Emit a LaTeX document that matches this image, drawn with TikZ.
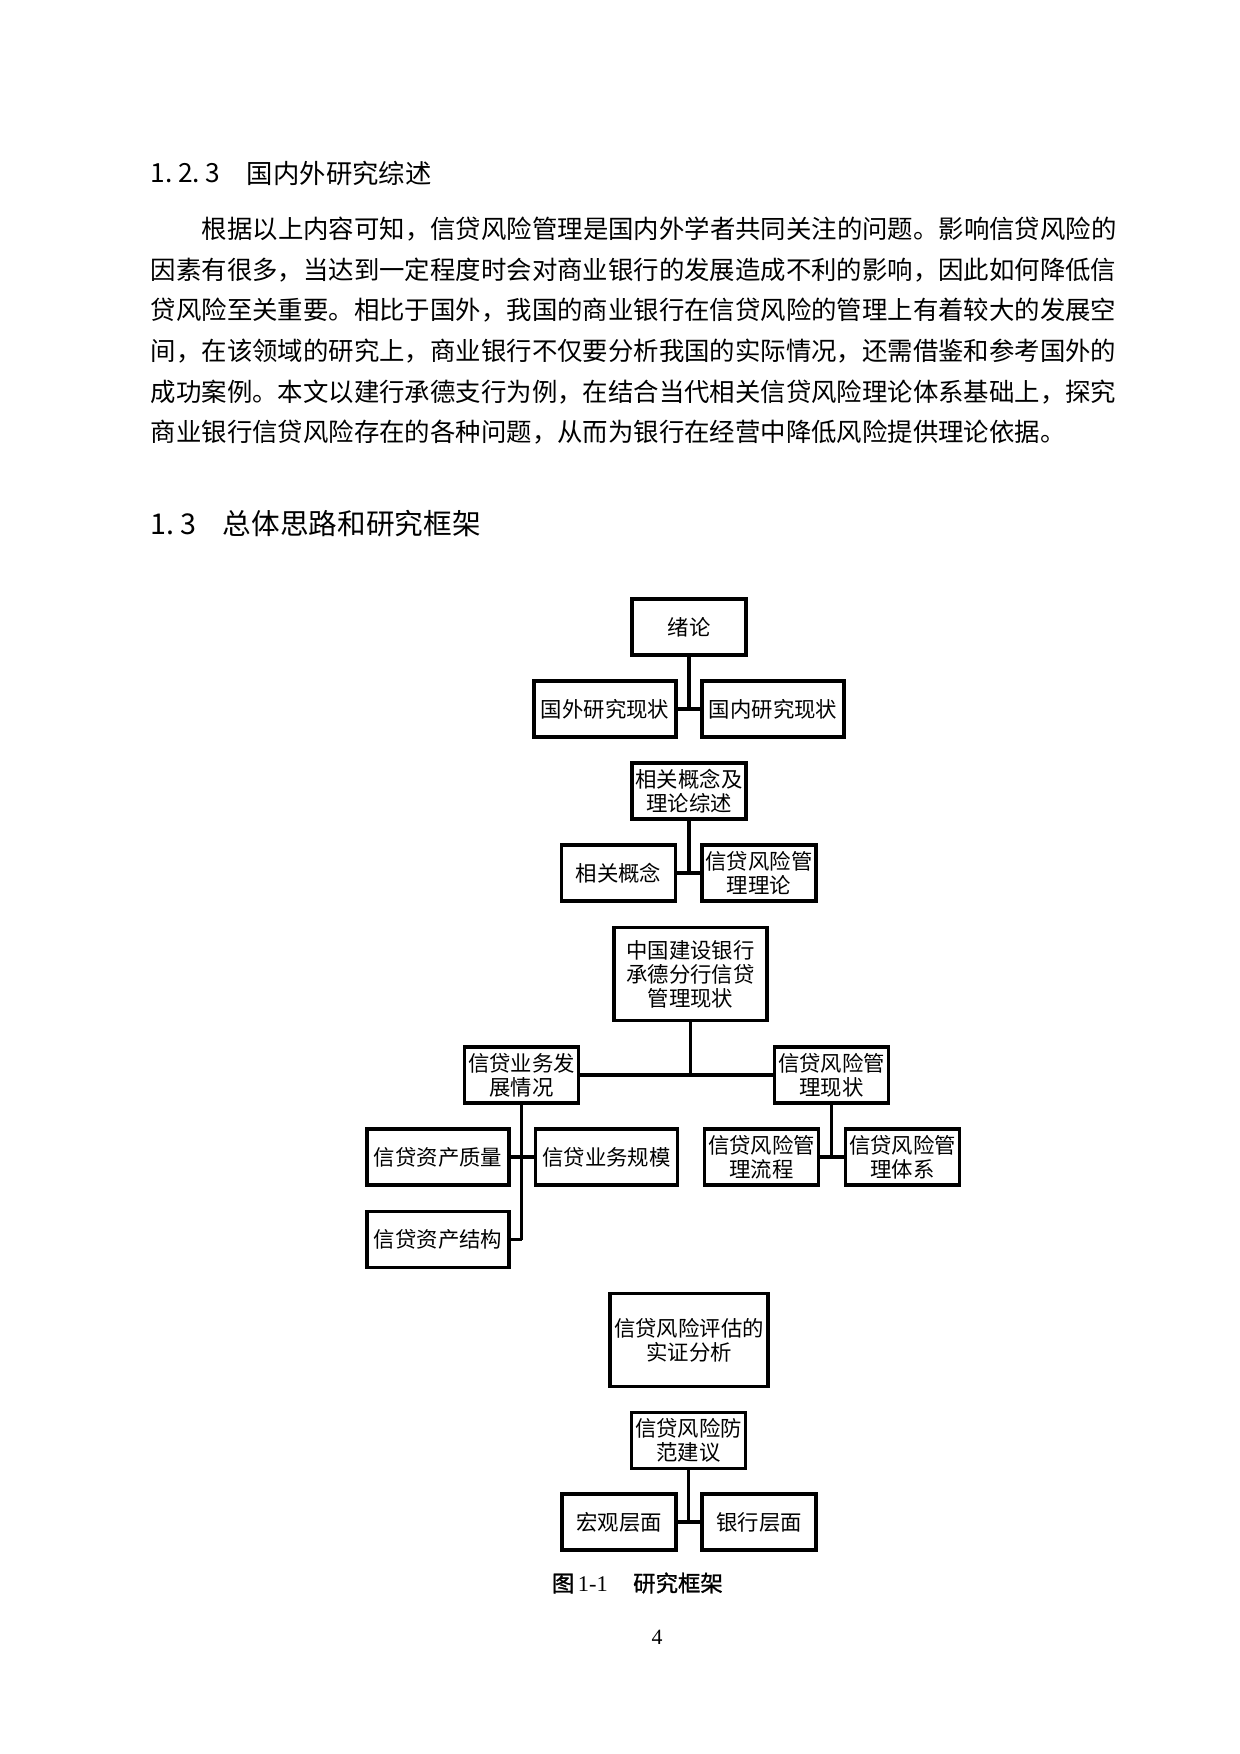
\documentclass[tikz,border=0pt]{standalone}
\usepackage{fontspec}
\setmainfont{Liberation Serif}
\newfontfamily\cjk{Noto Sans CJK SC}
\newfontfamily\cjkcap[FakeBold=1.2]{Noto Sans CJK SC}
\usetikzlibrary{positioning}
\newcommand{\pxu}{0.16935mm}

\begin{document}
\begin{tikzpicture}[x=\pxu, y=-\pxu, line width=1.9pt,
		box/.style={draw, rectangle, inner sep=0pt, align=center,
			minimum width=114*\pxu, minimum height=56*\pxu,
			font=\cjk\fontsize{10.3pt}{11.6pt}\selectfont},
		wbox/.style={box, minimum width=142*\pxu},
		tbox/.style={box, minimum height=93*\pxu},
		body/.style={anchor=west, inner sep=0pt, font=\cjk\fontsize{12.24pt}{12.24pt}\selectfont},
		head/.style={anchor=west, inner sep=0pt, font=\cjk\fontsize{12.7pt}{12.7pt}\selectfont}]

		\useasboundingbox (0,0) rectangle (1240,1754);

		\node[head] (SecNo) at (149,173) {1.\hspace{0.9mm}2.\hspace{0.9mm}3};
		\node[head] (Sec) at (245,173) {国内外研究综述};
		\node[body] (L1) at (200,229) {根据以上内容可知，信贷风险管理是国内外学者共同关注的问题。影响信贷风险的};
		\node[body] (L2) at (149,270) {因素有很多，当达到一定程度时会对商业银行的发展造成不利的影响，因此如何降低信};
		\node[body] (L3) at (149,310) {贷风险至关重要。相比于国外，我国的商业银行在信贷风险的管理上有着较大的发展空};
		\node[body] (L4) at (149,351) {间，在该领域的研究上，商业银行不仅要分析我国的实际情况，还需借鉴和参考国外的};
		\node[body] (L5) at (149,392) {成功案例。本文以建行承德支行为例，在结合当代相关信贷风险理论体系基础上，探究};
		\node[body] (L6) at (149,432) {商业银行信贷风险存在的各种问题，从而为银行在经营中降低风险提供理论依据。};
		\node[head, font=\cjk\fontsize{13.8pt}{13.8pt}\selectfont] (SubNo) at (149,524) {1.\hspace{0.9mm}3};
		\node[head, font=\cjk\fontsize{13.8pt}{13.8pt}\selectfont] (Sub) at (221,524) {总体思路和研究框架};

		\node[box] (Xulun) at (689,627) {绪论};
		\node[wbox] (Guowai) at (605,709) {国外研究现状};
		\node[wbox] (Guonei) at (773,709) {国内研究现状};
		\node[box] (Lilun) at (689,791) {相关概念及\\理论综述};
		\node[box] (Gainian) at (618.5,873) {相关概念};
		\node[box] (FxLilun) at (759,873) {信贷风险管\\理理论};
		\node[tbox, minimum width=153*\pxu] (Xianzhuang) at (690.5,974) {中国建设银行\\承德分行信贷\\管理现状};
		\node[box] (Fazhan) at (521.5,1075) {信贷业务发\\展情况};
		\node[box] (Guanli) at (831.5,1075) {信贷风险管\\理现状};
		\node[wbox] (Zhiliang) at (438,1157) {信贷资产质量};
		\node[wbox] (Guimo) at (606.5,1157) {信贷业务规模};
		\node[wbox] (Jiegou) at (438,1239.5) {信贷资产结构};
		\node[box] (Liucheng) at (761.5,1157) {信贷风险管\\理流程};
		\node[box] (Tixi) at (902.5,1157) {信贷风险管\\理体系};
		\node[tbox, minimum width=158*\pxu] (Shizheng) at (689,1340) {信贷风险评估的\\实证分析};
		\node[box] (Fangfan) at (688.5,1440.5) {信贷风险防\\范建议};
		\node[box] (Hongguan) at (619,1522) {宏观层面};
		\node[box] (Yinhang) at (759,1522) {银行层面};

		\node[anchor=west, inner sep=0pt, font=\fontsize{10.8pt}{10.8pt}\selectfont] (Caption) at (550,1583)
			{{\cjkcap 图}\hspace{0.6mm}1-1\hspace{4.3mm}{\cjkcap 研究框架}};
		\node[inner sep=0pt, font=\fontsize{10.5pt}{10.5pt}\selectfont] (PageNo) at (657,1637) {4};

		\coordinate (J1) at (Xulun |- Guowai);
		\coordinate (J2) at (Lilun |- Gainian);
		\coordinate (J3) at (Xianzhuang |- Fazhan);
		\coordinate (J4) at (Fazhan |- Jiegou);
		\coordinate (J5) at (Guanli |- Liucheng);
		\coordinate (J6) at (Fangfan |- Hongguan);

		\path (Xulun) edge (J1)
		(Guowai) edge (Guonei)
		(Lilun) edge (J2)
		(Gainian) edge (FxLilun)
		(Xianzhuang) edge (J3)
		(Fazhan) edge (Guanli)
		(Fazhan) edge (J4)
		(Zhiliang) edge (Guimo)
		(Jiegou) edge (J4)
		(Guanli) edge (J5)
		(Liucheng) edge (Tixi)
		(Fangfan) edge (J6)
		(Hongguan) edge (Yinhang);
	\end{tikzpicture}
\end{document}
